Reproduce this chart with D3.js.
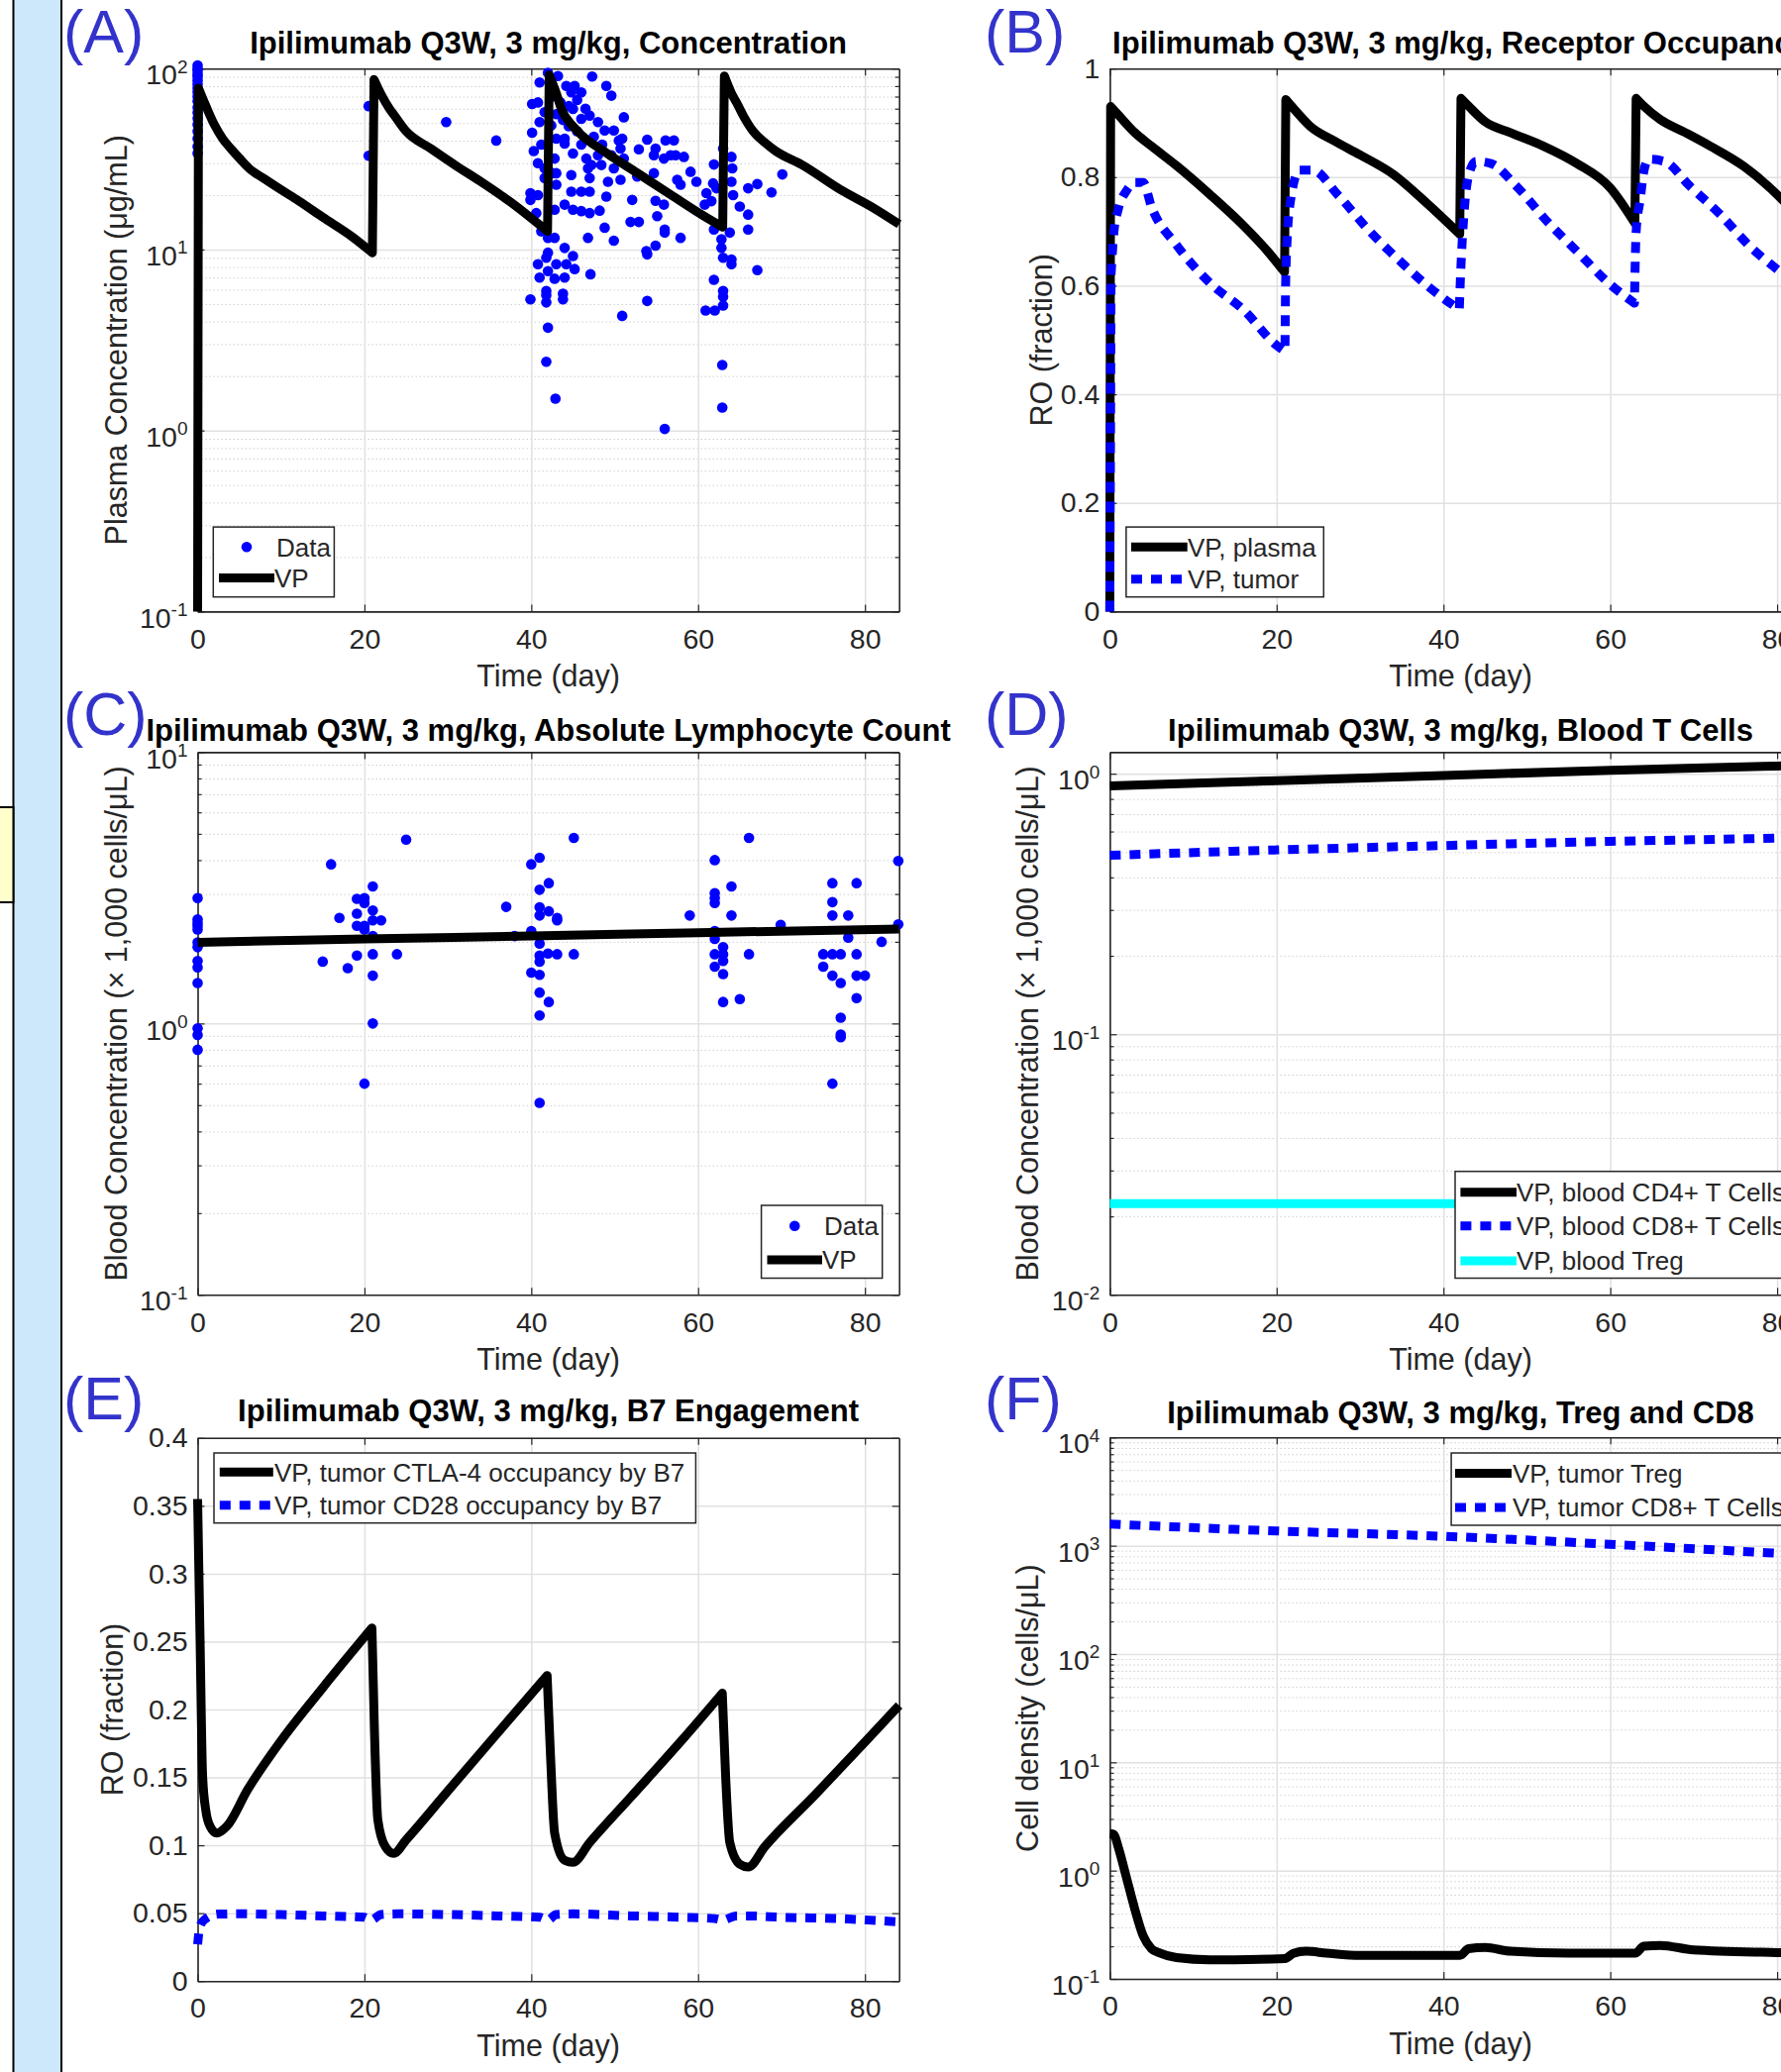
<!DOCTYPE html>
<html>
<head>
<meta charset="utf-8">
<script src="https://cdn.jsdelivr.net/npm/d3@7"></script>
<style>
  html, body { margin: 0; padding: 0; background: #fff; }
  svg { display: block; }
</style>
</head>
<body>
<svg id="fig" width="1798" height="2092"></svg>
<script>
// ---------- data ----------
const xTicks = [0, 20, 40, 60, 80];
const xMax = 84.1;

// (A) plasma concentration, observed [day, ug/mL]
const concData = [
  [0,104],[0,100],[0,97],[0,93],[0,90],[0,86],[0,82],[0,78],[0,74],[0,70],[0,66],[0,61],[0,57],[0,53],[0,49],[0,45],[0,41],[0,37],[0,34],
  [20.5,33],[20.5,62],[29.8,50.6],[35.8,40],
  [42.0,94.8],[41.0,83.8],[43.2,91.0],[40.1,63.7],[40.8,65.0],[41.0,50.6],[40.1,44.2],[41.6,57.4],[42.4,48.5],[43.0,41.0],[44.0,38.5],
  [41.6,28.1],[41.6,24.8],[43.0,26.4],[43.0,22.8],[39.9,18.8],[39.9,20.5],[40.8,20.0],[40.6,15.9],[42.8,16.6],[44.0,17.7],[44.8,20.9],
  [46.0,20.9],[47.0,20.9],[45.0,16.6],[46.0,16.3],[47.0,15.9],[48.2,16.4],[41.2,12.6],[42.0,11.6],[42.8,11.6],[44.0,10.2],[42.0,9.6],
  [41.8,9.0],[45.0,9.2],[40.8,8.3],[43.0,8.3],[44.2,8.3],[42.0,7.6],[45.2,7.8],[41.0,7.0],[42.8,6.9],[44.0,7.0],[47.1,7.3],[41.8,5.9],
  [41.8,5.6],[41.8,5.1],[39.9,5.3],[43.8,5.7],[43.8,5.3],[42.0,3.7],[41.8,2.4],[42.9,1.5],[56.0,1.02],[50.9,4.3],[53.9,5.2],[53.9,9.4],
  [53.8,9.8],[54.9,10.5],[46.8,11.6],[49.9,11.2],[48.8,13.2],[51.9,14.2],[52.9,14.2],[56.0,12.9],[56.0,12.4],[57.9,11.6],[55.1,15.3],
  [52.1,18.8],[54.9,18.6],[55.9,17.7],[49.0,19.6],[47.0,24.8],[49.2,23.7],[50.7,24.3],[52.7,25.3],[54.7,26.4],[57.5,24.3],[59.1,26.9],
  [59.8,23.7],[57.9,22.8],[47.2,29.3],[48.4,29.3],[49.9,28.1],[46.6,31.8],[48.0,33.2],[49.6,33.2],[51.1,31.8],[54.7,33.2],[55.9,31.8],
  [56.7,33.2],[54.9,36.1],[56.1,40.1],[57.1,40.1],[53.9,40.5],[52.9,35.8],[57.3,33.2],[58.3,32.5],[50.7,36.1],[50.9,41.0],[49.9,45.5],
  [48.8,45.5],[48.0,50.6],[47.0,55.0],[46.0,52.7],[45.0,59.8],[51.1,53.8],[44.8,73.8],[46.0,73.8],[44.2,80.2],[45.2,80.2],[49.0,80.2],
  [47.3,90.4],[49.6,70.8],[44.0,41.0],[45.0,33.9],[42.8,31.8],[42.6,26.4],[44.8,25.8],[46.8,28.1],
  [42.5,70],[43.5,65],[44.5,62],[45.5,67],[46.5,60],[43.8,52],[45.5,45],[47.5,42],[48.5,38],[50.5,40],[44.5,48],[46.0,38],[43.0,56],
  [40.3,35],[40.8,30],[41.2,38],
  [61.9,29.5],[64.0,32.5],[64.1,28.1],[63.0,36.1],[61.8,23.2],[61.0,20.5],[61.6,18.5],[60.8,17.7],[62.2,21.8],[64.0,23.7],[64.2,20.0],
  [65.0,17.3],[66.0,15.6],[66.0,12.9],[63.8,12.4],[61.9,12.9],[62.8,11.4],[62.8,10.2],[63.0,9.0],[64.0,8.8],[64.0,8.3],[61.9,6.8],
  [63.0,5.9],[63.0,5.5],[63.0,4.9],[60.9,4.6],[62.0,4.6],[62.9,2.3],[62.9,1.34],[67.1,7.7],[68.8,20.7],[67.1,23.0],[66.0,21.8],[70.1,26.0]
];
// (A) model VP
const pkDay = [0, 0.1, 1, 2, 3, 4, 5, 6.2, 8, 10, 12.1, 15, 18.5, 20.95,
  21.15, 22, 23, 23.6, 25, 28, 31, 33.9, 37.5, 40, 41.95,
  42.15, 43, 43.6, 45, 46, 48.8, 52.7, 56.7, 60.6, 62.95,
  63.15, 64, 64.6, 65.5, 66.6, 68, 69.3, 72.5, 77, 81, 84.1];
const pkVP = [0.1, 78, 62, 49, 41, 36, 32, 28, 24.6, 21.4, 18.6, 15.1, 11.8, 9.6,
  87, 72, 60, 55, 45, 36, 29, 23.8, 18.3, 14.9, 12.6,
  92, 73, 60, 48, 43, 34.7, 26.5, 20.1, 15.4, 13.3,
  91, 73, 65, 54, 45, 39, 35, 29.3, 21.5, 17, 13.8];
const pkCuts = [0.1, 20.95, 21.15, 41.95, 42.15, 62.95, 63.15];

// (B) receptor occupancy
const roDay = [0, 0.1, 1, 3, 5, 8, 12, 16, 19, 20.95, 21.1, 22, 24, 27, 30, 34, 38, 41.95,
  42.1, 43, 45, 48, 52, 56, 60, 62.95, 63.1, 64, 66, 69, 72, 76, 80, 84.1];
const roPlasma = [0, 0.93, 0.915, 0.882, 0.857, 0.821, 0.768, 0.711, 0.662, 0.625, 0.943, 0.927, 0.894, 0.866, 0.841, 0.805, 0.752, 0.695,
  0.945, 0.931, 0.902, 0.882, 0.857, 0.825, 0.780, 0.715, 0.945, 0.931, 0.906, 0.882, 0.857, 0.82, 0.768, 0.70];
const roCuts = [0.1, 20.95, 21.1, 41.95, 42.1, 62.95, 63.1];
const tumDay = [0, 0.15, 0.5, 1, 2, 3, 4, 5, 8, 12, 16, 20, 21.0, 21.1, 21.6, 22.75, 24.3, 27.3, 31, 35.3, 38.3, 41.9,
  42.0, 42.5, 43.2, 43.9, 45.7, 48.7, 52.4, 56.1, 59.8, 62.9, 63.0, 63.1, 63.6, 64, 64.6, 66.5, 69.5, 73.2, 76.9, 80, 84.1];
const tumVal = [0, 0.62, 0.70, 0.74, 0.775, 0.79, 0.79, 0.745, 0.675, 0.605, 0.556, 0.49, 0.479, 0.62, 0.75, 0.813, 0.813, 0.768, 0.703, 0.638, 0.597, 0.556,
  0.60, 0.74, 0.813, 0.829, 0.825, 0.784, 0.719, 0.662, 0.605, 0.568, 0.65, 0.70, 0.76, 0.809, 0.833, 0.829, 0.784, 0.731, 0.67, 0.63, 0.58];
const tumCuts = [0.15, 21.0, 41.9, 62.9];

// (C) absolute lymphocyte count, observed [day, x1000 cells/uL]
const alcData = [
  [0,2.90],[0,2.42],[0,2.35],[0,2.29],[0,2.22],[0,1.99],[0,1.91],[0,1.70],[0,1.61],[0,1.41],[0,0.96],[0,0.907],[0,0.80],
  [16.0,3.86],[17.0,2.45],[15.0,1.69],[18.0,1.60],[19.1,2.88],[20.0,2.90],[20.0,2.78],[19.1,2.54],[19.1,2.29],[20.0,2.29],[20.0,2.22],
  [21.0,3.20],[21.0,2.61],[21.0,2.40],[22.0,2.40],[21.0,2.10],[19.1,1.78],[21.0,1.80],[23.9,1.80],[21.0,1.50],[21.0,1.0],[20.0,0.60],[25.0,4.76],
  [37.0,2.69],[38.0,2.10],[40.0,3.86],[41.0,4.08],[42.1,3.29],[41.0,3.11],[41.0,2.68],[41.0,2.50],[42.1,2.59],[40.0,2.19],[41.0,1.97],
  [41.0,1.78],[42.0,1.81],[41.0,1.69],[40.0,1.54],[41.0,1.51],[41.0,1.30],[42.1,1.20],[41.0,1.07],[41.0,0.51],[43.1,2.45],[43.1,2.40],
  [43.1,1.80],[45.1,1.80],[45.1,4.83],
  [59.0,2.50],[62.0,4.00],[62.0,3.02],[62.0,2.90],[62.0,2.78],[64.0,3.20],[64.0,2.50],[66.1,4.83],[62.0,2.19],[62.0,2.05],[63.0,1.91],
  [62.0,1.80],[63.0,1.80],[63.0,1.70],[62.0,1.62],[63.0,1.52],[66.1,1.80],[63.0,1.20],[65.0,1.23],[69.9,2.31],
  [76.1,3.29],[79.0,3.29],[76.1,2.80],[76.1,2.50],[78.0,2.50],[84.0,3.97],[84.0,2.32],[78.0,2.07],[82.0,2.00],[75.0,1.80],[76.1,1.80],
  [77.1,1.80],[79.0,1.80],[75.0,1.62],[76.1,1.50],[77.1,1.41],[79.0,1.50],[80.0,1.50],[79.0,1.24],[77.1,1.05],[77.1,0.91],[77.1,0.89],[76.1,0.60]
];
const alcDay = [0, 20, 40, 60, 84.1];
const alcVP = [1.99, 2.05, 2.10, 2.16, 2.23];

// (D) blood T cells
const bloodDay = [0, 20, 40, 60, 80, 84.1];
const cd4Blood = [0.897, 0.94, 0.985, 1.03, 1.07, 1.08];
const cd8Blood = [0.486, 0.51, 0.53, 0.55, 0.566, 0.57];
const tregBlood = [0.0224, 0.0224, 0.0224, 0.0224, 0.0224, 0.0224];

// (E) B7 engagement
const b7Day = [0, 0.3, 0.6, 1, 1.5, 2.3, 3.5, 6, 10, 15, 20.9, 21.2, 21.6, 22.5, 23.5, 25, 30, 36, 41.9,
  42.3, 42.8, 44, 45, 47, 52, 58, 62.9, 63.3, 63.8, 65, 66, 68, 74, 80, 84.1];
const ctla4B7 = [0.355, 0.249, 0.151, 0.125, 0.114, 0.109, 0.114, 0.141, 0.177, 0.216, 0.26, 0.184, 0.119, 0.099, 0.094, 0.104, 0.14, 0.183, 0.225,
  0.167, 0.109, 0.089, 0.0875, 0.102, 0.136, 0.177, 0.212, 0.151, 0.102, 0.086, 0.084, 0.099, 0.137, 0.176, 0.203];
const b7Cuts = [20.9, 41.9, 62.9];
const cd28Day = [0, 0.3, 1, 2.5, 5, 10, 15, 20, 20.8, 22, 24, 30, 36, 41, 42, 43, 45, 52, 58, 62, 63, 64.5, 66, 70, 77, 84.1];
const cd28B7 = [0.027, 0.041, 0.046, 0.0493, 0.0495, 0.049, 0.048, 0.047, 0.045, 0.049, 0.0495, 0.049, 0.048, 0.047, 0.045, 0.049, 0.0495, 0.048, 0.047, 0.046, 0.045, 0.048, 0.048, 0.047, 0.046, 0.0435];

// (F) tumor Treg and CD8
const cd8TumDay = [0, 20, 40, 60, 80, 84.1];
const cd8Tumor = [1585, 1368, 1222, 1031, 853, 822];
const tregTumDay = [0, 0.5, 1, 2, 3, 4, 5, 6, 8, 12, 21, 22, 23.5, 26, 30, 42, 43, 45, 48, 55, 63, 64, 66, 70, 80, 84.1];
const tregTumor = [2.2, 2.15, 1.66, 0.86, 0.44, 0.25, 0.19, 0.173, 0.157, 0.15, 0.154, 0.172, 0.18, 0.173, 0.165, 0.165, 0.19, 0.195, 0.18, 0.173, 0.173, 0.2, 0.204, 0.185, 0.175, 0.172];

// ---------- drawing ----------
const FONT = "'Liberation Sans', Arial, Helvetica, sans-serif";
const INK = "#262626";
const BLUE = "#0000ff";
const AX_W = 708.2;
const DOTS = "11,9";
const LW = 9;

const svg = d3.select("#fig").attr("font-family", FONT);
svg.append("rect").attr("width", 1798).attr("height", 2092).attr("fill", "#fff");

// side strip from the page layout
svg.append("rect").attr("x", 13.5).attr("y", -3).attr("width", 48.5).attr("height", 2100)
  .attr("fill", "#cce8fa").attr("stroke", "#000").attr("stroke-width", 2);
svg.append("rect").attr("x", -3).attr("y", 815).attr("width", 16.5).attr("height", 96)
  .attr("fill", "#ffffcc").attr("stroke", "#000").attr("stroke-width", 2);

function minorTicks(dom) {
  const out = [];
  for (let e = Math.floor(Math.log10(dom[0])); e <= Math.ceil(Math.log10(dom[1])); e++) {
    for (let m = 2; m <= 9; m++) {
      const v = m * Math.pow(10, e);
      if (v > dom[0] && v < dom[1]) out.push(v);
    }
  }
  return out;
}

function styleAxis(sel, size) {
  sel.attr("font-size", size).attr("font-family", FONT);
  sel.select(".domain").attr("stroke", INK).attr("stroke-width", 1.6);
  sel.selectAll(".tick line").attr("stroke", INK).attr("stroke-width", 1.2);
  sel.selectAll(".tick text").attr("fill", INK);
}

function panel(o) {
  const w = AX_W, h = o.bottom - o.top;
  const x = d3.scaleLinear().domain([0, xMax]).range([o.left, o.left + w]);
  const y = (o.log ? d3.scaleLog() : d3.scaleLinear()).domain(o.yDomain).range([o.bottom, o.top]);
  const g = svg.append("g");
  const minors = o.log ? minorTicks(o.yDomain) : [];

  // grid
  if (o.log) {
    g.append("g").attr("transform", `translate(${o.left},0)`)
      .call(d3.axisLeft(y).tickValues(minors).tickSize(-w).tickFormat(""))
      .call(s => s.select(".domain").remove())
      .selectAll("line").attr("stroke", "#cfcfcf").attr("stroke-width", 1).attr("stroke-dasharray", "1.5,2.5");
  }
  g.append("g").attr("transform", `translate(${o.left},0)`)
    .call(d3.axisLeft(y).tickValues(o.yTicks).tickSize(-w).tickFormat(""))
    .call(s => s.select(".domain").remove())
    .selectAll("line").attr("stroke", "#e1e1e1").attr("stroke-width", 1.5);
  g.append("g").attr("transform", `translate(0,${o.bottom})`)
    .call(d3.axisBottom(x).tickValues(xTicks).tickSize(-h).tickFormat(""))
    .call(s => s.select(".domain").remove())
    .selectAll("line").attr("stroke", "#e1e1e1").attr("stroke-width", 1.5);

  // axes box with inward ticks
  g.append("g").attr("transform", `translate(0,${o.bottom})`)
    .call(d3.axisBottom(x).tickValues(xTicks).tickSizeInner(-7).tickSizeOuter(0).tickPadding(17))
    .call(s => styleAxis(s, 28.5));
  g.append("g").attr("transform", `translate(0,${o.top})`)
    .call(d3.axisTop(x).tickValues(xTicks).tickSizeInner(-7).tickSizeOuter(0).tickFormat(""))
    .call(s => styleAxis(s, 28.5));
  const yl = g.append("g").attr("transform", `translate(${o.left},0)`)
    .call(d3.axisLeft(y).tickValues(o.yTicks).tickSizeInner(-7).tickSizeOuter(0).tickPadding(10)
      .tickFormat(o.log ? d => "10" : d => String(d)))
    .call(s => styleAxis(s, 28.5));
  if (o.log) {
    yl.selectAll(".tick text").attr("dy", "0.55em")
      .append("tspan").attr("dy", "-0.62em").attr("font-size", 19)
      .text(d => String(Math.round(Math.log10(d))));
  }
  g.append("g").attr("transform", `translate(${o.left + w},0)`)
    .call(d3.axisRight(y).tickValues(o.yTicks).tickSizeInner(-7).tickSizeOuter(0).tickFormat(""))
    .call(s => styleAxis(s, 28.5));
  if (o.log) {
    g.append("g").attr("transform", `translate(${o.left},0)`)
      .call(d3.axisLeft(y).tickValues(minors).tickSizeInner(-4).tickSizeOuter(0).tickFormat(""))
      .call(s => styleAxis(s, 28.5)).select(".domain").remove();
    g.append("g").attr("transform", `translate(${o.left + w},0)`)
      .call(d3.axisRight(y).tickValues(minors).tickSizeInner(-4).tickSizeOuter(0).tickFormat(""))
      .call(s => styleAxis(s, 28.5)).select(".domain").remove();
  }

  // labels
  const cx = o.left + w / 2;
  g.append("text").attr("x", cx).attr("y", o.bottom + 76).attr("text-anchor", "middle")
    .attr("font-size", 30.5).attr("fill", INK).text("Time (day)");
  g.append("text").attr("transform", `translate(${o.ylabelX},${(o.top + o.bottom) / 2}) rotate(-90)`)
    .attr("text-anchor", "middle").attr("dominant-baseline", "central")
    .attr("font-size", 30.5).attr("fill", INK).text(o.ylabel);
  g.append("text").attr("x", cx).attr("y", o.titleY).attr("text-anchor", "middle")
    .attr("font-size", 31).attr("font-weight", "bold").attr("fill", "#000").text(o.title);
  g.append("text").attr("x", o.tagX).attr("y", o.tagY).attr("font-size", 61)
    .attr("fill", "#3333cc").text(o.tag);

  return { g, x, y };
}

// smooth curve, but kept sharp at the dosing jumps listed in cuts
function curvePath(p, pts, cuts) {
  const line = d3.line().curve(d3.curveMonotoneX).x(d => p.x(d[0])).y(d => p.y(d[1]));
  const pieces = [];
  let cur = [];
  pts.forEach(pt => {
    cur.push(pt);
    if (cuts.includes(pt[0]) && cur.length > 1) { pieces.push(cur); cur = [pt]; }
  });
  if (cur.length > 1) pieces.push(cur);
  return pieces.map((pc, i) => { const s = line(pc); return i ? "L" + s.slice(1) : s; }).join("");
}

function drawLine(p, days, vals, color, dashed, cuts) {
  p.g.append("path")
    .attr("fill", "none").attr("stroke", color).attr("stroke-width", LW)
    .attr("stroke-linejoin", "round")
    .attr("stroke-dasharray", dashed ? DOTS : null)
    .attr("d", curvePath(p, d3.zip(days, vals), cuts || []));
}

function drawDots(p, pts) {
  p.g.append("g").selectAll("circle").data(pts).join("circle")
    .attr("cx", d => p.x(d[0])).attr("cy", d => p.y(d[1])).attr("r", 5.3).attr("fill", BLUE);
}

function legend(p, box, items) {
  const lg = p.g.append("g");
  lg.append("rect").attr("x", box.x).attr("y", box.y).attr("width", box.w).attr("height", box.h)
    .attr("fill", "#fff").attr("stroke", INK).attr("stroke-width", 1.5);
  items.forEach(it => {
    if (it.kind === "dot") {
      lg.append("circle").attr("cx", (box.s0 + box.s1) / 2).attr("cy", it.y).attr("r", 5.3).attr("fill", BLUE);
    } else {
      lg.append("line").attr("x1", box.s0).attr("x2", box.s1).attr("y1", it.y).attr("y2", it.y)
        .attr("stroke", it.color).attr("stroke-width", LW)
        .attr("stroke-dasharray", it.dashed ? DOTS : null);
    }
    lg.append("text").attr("x", it.tx || box.tx).attr("y", it.y).attr("dy", "0.36em")
      .attr("font-size", 26).attr("fill", INK).text(it.label);
  });
}

// (A)
const pA = panel({ left: 199.5, top: 69.2, bottom: 617.4, log: true, yDomain: [0.1, 100], yTicks: [0.1, 1, 10, 100],
  title: "Ipilimumab Q3W, 3 mg/kg, Concentration", titleY: 54, ylabel: "Plasma Concentration (μg/mL)", ylabelX: 117,
  tag: "(A)", tagX: 64, tagY: 53 });
drawDots(pA, concData);
drawLine(pA, pkDay, pkVP, "#000", false, pkCuts);
legend(pA, { x: 215.3, y: 532.1, w: 122.1, h: 70.6, s0: 221, s1: 277, tx: 277 }, [
  { kind: "dot", y: 552.2, label: "Data", tx: 279 },
  { kind: "line", y: 583.5, color: "#000", label: "VP" }
]);

// (B)
const pB = panel({ left: 1120.4, top: 69.2, bottom: 617.4, log: false, yDomain: [0, 1], yTicks: [0, 0.2, 0.4, 0.6, 0.8, 1],
  title: "Ipilimumab Q3W, 3 mg/kg, Receptor Occupancy", titleY: 54, ylabel: "RO (fraction)", ylabelX: 1051,
  tag: "(B)", tagX: 994, tagY: 53 });
drawLine(pB, roDay, roPlasma, "#000", false, roCuts);
drawLine(pB, tumDay, tumVal, BLUE, true, tumCuts);
legend(pB, { x: 1136.9, y: 532.1, w: 199.4, h: 70.6, s0: 1142, s1: 1198.7, tx: 1199 }, [
  { kind: "line", y: 552.2, color: "#000", label: "VP, plasma" },
  { kind: "line", y: 584.8, color: BLUE, dashed: true, label: "VP, tumor" }
]);

// (C)
const pC = panel({ left: 199.5, top: 759.4, bottom: 1307.3, log: true, yDomain: [0.1, 10], yTicks: [0.1, 1, 10],
  title: "Ipilimumab Q3W, 3 mg/kg, Absolute Lymphocyte Count", titleY: 748.4,
  ylabel: "Blood Concentration (× 1,000 cells/μL)", ylabelX: 117, tag: "(C)", tagX: 64, tagY: 742 });
drawDots(pC, alcData);
drawLine(pC, alcDay, alcVP, "#000", false);
legend(pC, { x: 768.6, y: 1217, w: 122.1, h: 73.5, s0: 774.5, s1: 830, tx: 830 }, [
  { kind: "dot", y: 1237.7, label: "Data", tx: 832 },
  { kind: "line", y: 1272, color: "#000", label: "VP" }
]);

// (D)
const pD = panel({ left: 1120.4, top: 759.4, bottom: 1307.3, log: true, yDomain: [0.01, 1.21], yTicks: [0.01, 0.1, 1],
  title: "Ipilimumab Q3W, 3 mg/kg, Blood T Cells", titleY: 748.4,
  ylabel: "Blood Concentration (× 1,000 cells/μL)", ylabelX: 1037.4, tag: "(D)", tagX: 994, tagY: 742 });
drawLine(pD, bloodDay, cd4Blood, "#000", false);
drawLine(pD, bloodDay, cd8Blood, BLUE, true);
drawLine(pD, bloodDay, tregBlood, "#00ffff", false);
legend(pD, { x: 1469, y: 1182.7, w: 400, h: 107.8, s0: 1474.4, s1: 1531, tx: 1531 }, [
  { kind: "line", y: 1203.8, color: "#000", label: "VP, blood CD4+ T Cells" },
  { kind: "line", y: 1237.7, color: BLUE, dashed: true, label: "VP, blood CD8+ T Cells" },
  { kind: "line", y: 1273, color: "#00ffff", label: "VP, blood Treg" }
]);

// (E)
const pE = panel({ left: 199.5, top: 1451.8, bottom: 2000.2, log: false, yDomain: [0, 0.4],
  yTicks: [0, 0.05, 0.1, 0.15, 0.2, 0.25, 0.3, 0.35, 0.4],
  title: "Ipilimumab Q3W, 3 mg/kg, B7 Engagement", titleY: 1435,
  ylabel: "RO (fraction)", ylabelX: 113, tag: "(E)", tagX: 64, tagY: 1433 });
drawLine(pE, b7Day, ctla4B7, "#000", false, b7Cuts);
drawLine(pE, cd28Day, cd28B7, BLUE, true);
legend(pE, { x: 216, y: 1467, w: 486.4, h: 70.7, s0: 221.8, s1: 275.8, tx: 277 }, [
  { kind: "line", y: 1486.3, color: "#000", label: "VP, tumor CTLA-4 occupancy by B7" },
  { kind: "line", y: 1519.8, color: BLUE, dashed: true, label: "VP, tumor CD28 occupancy by B7" }
]);

// (F)
const pF = panel({ left: 1120.4, top: 1451.3, bottom: 1998, log: true, yDomain: [0.1, 10000],
  yTicks: [0.1, 1, 10, 100, 1000, 10000],
  title: "Ipilimumab Q3W, 3 mg/kg, Treg and CD8", titleY: 1437,
  ylabel: "Cell density (cells/μL)", ylabelX: 1037.4, tag: "(F)", tagX: 994, tagY: 1433 });
drawLine(pF, cd8TumDay, cd8Tumor, BLUE, true);
drawLine(pF, tregTumDay, tregTumor, "#000", false);
legend(pF, { x: 1465.1, y: 1467, w: 400, h: 73, s0: 1469, s1: 1526, tx: 1527 }, [
  { kind: "line", y: 1487.6, color: "#000", label: "VP, tumor Treg" },
  { kind: "line", y: 1522, color: BLUE, dashed: true, label: "VP, tumor CD8+ T Cells" }
]);
</script>
</body>
</html>
